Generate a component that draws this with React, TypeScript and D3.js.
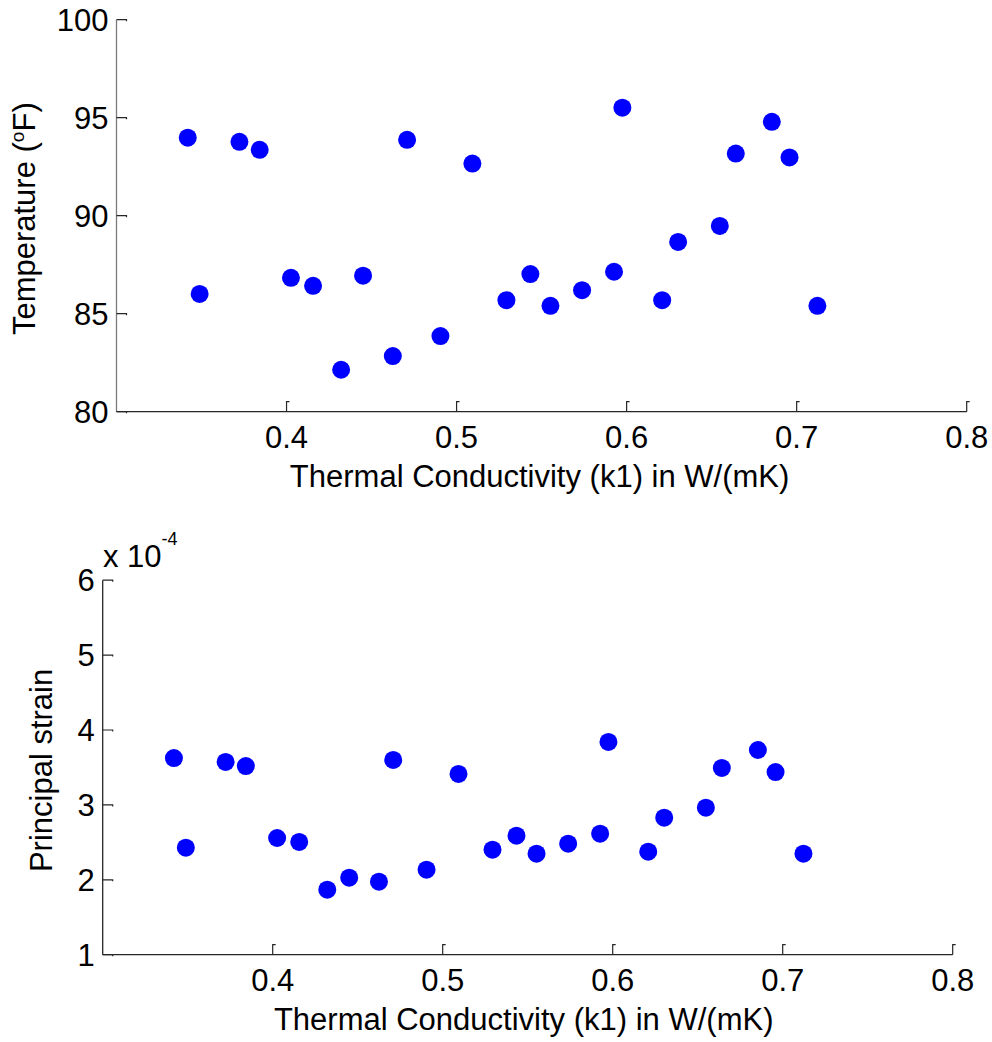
import React from "react";
import * as d3 from "d3";

const conductivity = [0.3419, 0.3489, 0.3723, 0.3842, 0.4026, 0.4156, 0.4321, 0.445, 0.4625, 0.4709, 0.4905, 0.5093, 0.5293, 0.5434, 0.5552, 0.5738, 0.5926, 0.5975, 0.6209, 0.6303, 0.6548, 0.6642, 0.6854, 0.6958, 0.7122];
const temperature = [93.98, 86.01, 93.77, 93.36, 86.83, 86.42, 82.14, 86.94, 82.84, 93.87, 83.86, 92.66, 85.69, 87.02, 85.4, 86.2, 87.14, 95.51, 85.69, 88.66, 89.48, 93.17, 94.79, 92.97, 85.4];
const strainE4 = [3.626, 2.429, 3.573, 3.519, 2.558, 2.505, 1.868, 2.028, 1.975, 3.6, 2.135, 3.413, 2.402, 2.589, 2.348, 2.482, 2.615, 3.84, 2.375, 2.829, 2.963, 3.493, 3.733, 3.439, 2.348];

const xTicks = [0.4, 0.5, 0.6, 0.7, 0.8];
const tempTicks = [80, 85, 90, 95, 100];
const strainTicks = [1, 2, 3, 4, 5, 6];

const FONT = "'Liberation Sans', Arial, sans-serif";
const FS = 31;

type PanelProps = {
  left: number; right: number; top: number; bottom: number;
  yDomain: [number, number]; yTicks: number[]; yValues: number[];
  yAxisColor: string; xLabel: string; yLabel: React.ReactNode;
  yLabelX: number; xLabelY: number; xLabelDx: number;
};

function Panel(p: PanelProps) {
  const x = d3.scaleLinear().domain([0.3, 0.8]).range([p.left, p.right]);
  const y = d3.scaleLinear().domain(p.yDomain).range([p.bottom, p.top]);
  const tl = 10;
  return (
    <g>
      <line x1={p.left} x2={p.left} y1={p.top} y2={p.bottom} stroke={p.yAxisColor} strokeWidth={1.3} />
      <line x1={p.left} x2={p.right} y1={p.bottom} y2={p.bottom} stroke="#262626" strokeWidth={1.3} />
      {xTicks.map((t) => (
        <g key={"xt" + t}>
          <path d={`M${x(t)},${p.bottom} V${p.bottom - tl} h3`} fill="none" stroke="#262626" strokeWidth={1.2} />
          <text x={x(t)} y={p.bottom + 36.7} fontSize={FS} fontFamily={FONT} textAnchor="middle" fill="#000">{String(t)}</text>
        </g>
      ))}
      {p.yTicks.map((t) => (
        <g key={"yt" + t}>
          <path d={`M${p.left},${y(t)} H${p.left + tl} v1.5`} fill="none" stroke="#262626" strokeWidth={1.2} />
          <text x={p.left - 8} y={y(t) + 11.1} fontSize={FS} fontFamily={FONT} textAnchor="end" fill="#000">{String(t)}</text>
        </g>
      ))}
      {conductivity.map((c, i) => (
        <circle key={i} cx={x(c)} cy={y(p.yValues[i])} r={9} fill="#0000ff" />
      ))}
      <text x={(p.left + p.right) / 2 + p.xLabelDx} y={p.xLabelY} fontSize={FS} fontFamily={FONT} textAnchor="middle" fill="#000">{p.xLabel}</text>
      <text transform={`translate(${p.yLabelX},${(p.top + p.bottom) / 2 + 3}) rotate(-90)`} fontSize={FS} fontFamily={FONT} textAnchor="middle" fill="#000">{p.yLabel}</text>
    </g>
  );
}

export default function App() {
  return (
    <svg width={992} height={1042} style={{ position: "absolute", left: 0, top: 0, background: "#fff" }}>
      <rect width={992} height={1042} fill="#fff" />
      <Panel left={116.5} right={966.7} top={19.7} bottom={411.7}
        yDomain={[80, 100]} yTicks={tempTicks} yValues={temperature}
        yAxisColor="#7a7a7a" xLabel="Thermal Conductivity (k1) in W/(mK)"
        yLabel={<>Temperature (<tspan fontSize={19} dy={-11}>o</tspan><tspan dy={11}>F)</tspan></>}
        yLabelX={35} xLabelY={487} xLabelDx={-2} />
      <Panel left={102.7} right={952.7} top={580.2} bottom={954.7}
        yDomain={[1, 6]} yTicks={strainTicks} yValues={strainE4}
        yAxisColor="#262626" xLabel="Thermal Conductivity (k1) in W/(mK)"
        yLabel="Principal strain"
        yLabelX={52} xLabelY={1030} xLabelDx={-4} />
      <text x={103} y={566.7} fontSize={FS} fontFamily={FONT} fill="#000">x 10<tspan fontSize={18} dy={-22}>-4</tspan></text>
    </svg>
  );
}
